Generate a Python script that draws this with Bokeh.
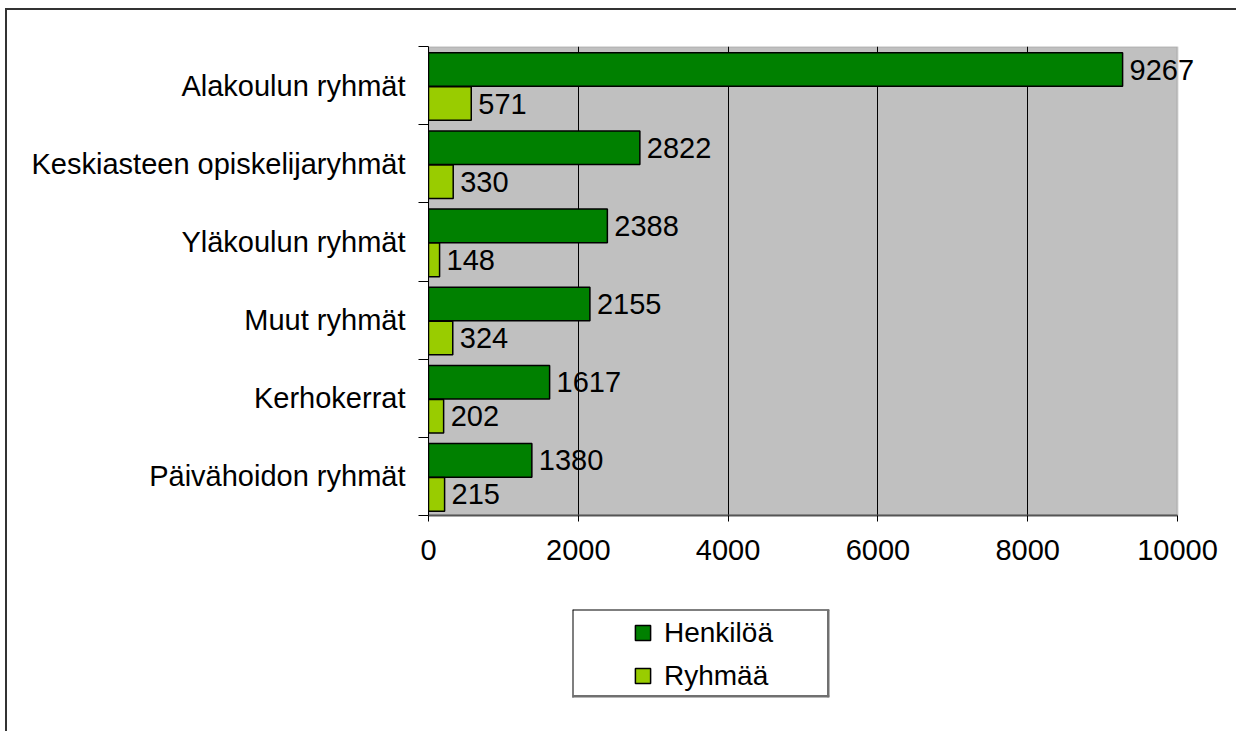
from bokeh.plotting import figure
from bokeh.models import (ColumnDataSource, FixedTicker, LabelSet, Legend, LegendItem,
                          BoxAnnotation, Range1d, Span)
from bokeh.core.properties import value
from bokeh.embed import file_html
from bokeh.resources import INLINE

categories = ["Päivähoidon ryhmät", "Kerhokerrat", "Muut ryhmät", "Yläkoulun ryhmät",
              "Keskiasteen opiskelijaryhmät", "Alakoulun ryhmät"]
henkiloa = [1380, 1617, 2155, 2388, 2822, 9267]
ryhmaa = [215, 202, 324, 148, 330, 571]
series_names = ["Henkilöä", "Ryhmää"]
x_ticks = [0, 2000, 4000, 6000, 8000, 10000]

FONT = "Liberation Sans"
DARK = "#008000"
LIGHT = "#99CC00"
GRAY_BG = "#C0C0C0"
EDGE = "2px solid #333333"

# layout constants (pixels)
W = 1231
H1 = 590
LEFT = 421
TOP = 36
FRAME_H = 469
AXIS_PX = 749            # pixel length of 0..max tick
frame_w = W - LEFT
x_end = x_ticks[-1] * frame_w / AXIS_PX

idx = list(range(len(categories)))
centers = [i + 0.5 for i in idx]
y_dark = [c + 0.205 for c in centers]
y_light = [c - 0.23 for c in centers]

src_h = ColumnDataSource(dict(y=y_dark, v=henkiloa, t=[str(v) for v in henkiloa]))
src_r = ColumnDataSource(dict(y=y_light, v=ryhmaa, t=[str(v) for v in ryhmaa]))

p = figure(width=W, height=H1, x_range=Range1d(0, x_end), y_range=Range1d(0, len(categories)),
           output_backend="svg", toolbar_location=None,
           min_border_left=LEFT, min_border_right=0, min_border_top=TOP,
           min_border_bottom=H1 - TOP - FRAME_H)
p.styles = {"border-top": EDGE, "border-left": EDGE, "margin-left": "5px", "margin-top": "8px"}
p.background_fill_color = "white"
p.border_fill_color = "white"
p.outline_line_color = None

# gray plot area 0..max tick
p.add_layout(BoxAnnotation(left=x_ticks[0], right=x_ticks[-1], fill_color=GRAY_BG, fill_alpha=1,
                           line_color="#808080", line_width=2, level="image"))

rh = p.hbar(y="y", right="v", left=0, height=0.43, source=src_h,
            fill_color=DARK, line_color="black", line_width=1.5)
rr = p.hbar(y="y", right="v", left=0, height=0.43, source=src_r,
            fill_color=LIGHT, line_color="black", line_width=1.5)

for s in (src_h, src_r):
    p.add_layout(LabelSet(x="v", y="y", text="t", source=s, x_offset=7,
                          text_baseline="middle", text_font=value(FONT),
                          text_font_size="29px", text_color="black"))

# x axis
p.xaxis.ticker = FixedTicker(ticks=x_ticks)
p.xaxis.bounds = (x_ticks[0], x_ticks[-1])
p.xaxis.major_label_text_font = FONT
p.xaxis.major_label_text_font_size = "29px"
p.xaxis.major_label_text_color = "black"
p.xaxis.major_tick_out = 6
p.xaxis.major_tick_in = 0
p.xaxis.minor_tick_line_color = None
p.xaxis.major_label_standoff = 18
p.xaxis.axis_line_color = "#555555"
p.xaxis.axis_line_width = 2
p.xaxis.major_tick_line_color = "black"

# y axis: labels at centres, tick marks at category boundaries
p.yaxis.ticker = FixedTicker(ticks=centers, minor_ticks=[float(i) for i in range(len(categories) + 1)])
p.yaxis.major_label_overrides = {c: cat for c, cat in zip(centers, categories)}
p.yaxis.major_label_text_font = FONT
p.yaxis.major_label_text_font_size = "29px"
p.yaxis.major_label_text_color = "black"
p.yaxis.major_tick_line_color = None
p.yaxis.major_tick_out = 10
p.yaxis.major_tick_in = 0
p.yaxis.major_label_standoff = 13
p.yaxis.minor_tick_out = 10
p.yaxis.minor_tick_in = 0
p.yaxis.minor_tick_line_color = "black"
p.yaxis.axis_line_color = "black"

p.xgrid.ticker = FixedTicker(ticks=x_ticks[1:-1])
p.xgrid.grid_line_color = "black"
p.xgrid.grid_line_width = 1
p.ygrid.grid_line_color = None

# legend panel (second figure whose frame is the legend box)
H2 = 133
L2_LEFT = 565
L2_W = 257
L2_TOP = 11
L2_H = 88
p2 = figure(width=W, height=H2, x_range=Range1d(0, 1), y_range=Range1d(0, 1),
            output_backend="svg", toolbar_location=None,
            min_border_left=L2_LEFT, min_border_right=W - L2_LEFT - L2_W,
            min_border_top=L2_TOP, min_border_bottom=H2 - L2_TOP - L2_H)
p2.styles = {"border-left": EDGE, "margin-left": "5px"}
p2.axis.visible = False
p2.grid.visible = False
p2.background_fill_color = "white"
p2.border_fill_color = "white"
p2.outline_line_color = None
p2.add_layout(Span(location=0, dimension="height", line_color="black", line_width=2))
p2.add_layout(Span(location=1, dimension="width", line_color="black", line_width=2))
p2.add_layout(Span(location=1, dimension="height", line_color="#707070", line_width=5))
p2.add_layout(Span(location=0, dimension="width", line_color="#707070", line_width=5))

hidden = dict(y=[-5.0], v=[0.0])
lh = p2.hbar(y="y", right="v", left=0, height=0.5, source=ColumnDataSource(hidden),
             fill_color=DARK, line_color="black", line_width=1.5)
lr = p2.hbar(y="y", right="v", left=0, height=0.5, source=ColumnDataSource(hidden),
             fill_color=LIGHT, line_color="black", line_width=1.5)

legend = Legend(items=[LegendItem(label=series_names[0], renderers=[lh]),
                       LegendItem(label=series_names[1], renderers=[lr])],
                location=(61, 5), orientation="vertical",
                glyph_width=19, glyph_height=19, label_height=33, spacing=10,
                padding=0, margin=0, label_standoff=12,
                label_text_font=FONT, label_text_font_size="28px",
                label_text_color="black",
                border_line_color=None, background_fill_alpha=0)
p2.add_layout(legend, "center")

open("out.html", "w").write(file_html([p, p2], INLINE))
